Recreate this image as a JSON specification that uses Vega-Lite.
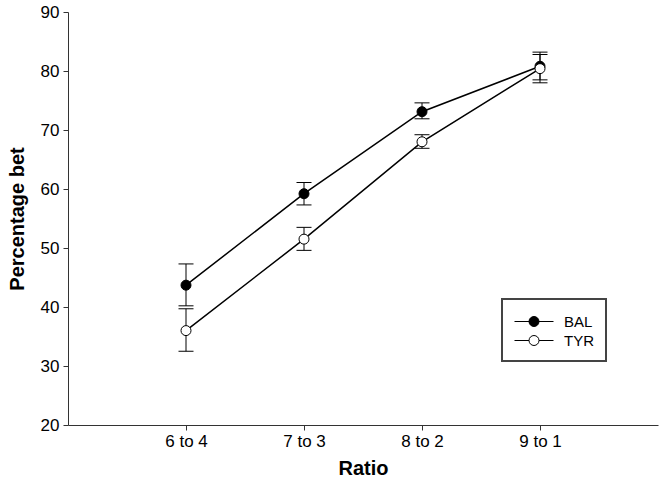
{
  "$schema": "https://vega.github.io/schema/vega-lite/v6.json",
  "width": 590,
  "height": 413,
  "autosize": "none",
  "padding": {"left": 68, "top": 12, "right": 7, "bottom": 57},
  "background": "white",
  "config": {
    "view": {"stroke": null},
    "font": "Liberation Sans",
    "axis": {"labelFont": "Liberation Sans", "titleFont": "Liberation Sans", "labelColor": "black", "titleColor": "black", "domainColor": "#333", "tickColor": "#333", "grid": false}
  },
  "data": {
    "values": [
      {"ratio": "6 to 4", "group": "BAL", "mean": 43.7, "lo": 40.2, "hi": 47.3},
      {"ratio": "7 to 3", "group": "BAL", "mean": 59.2, "lo": 57.3, "hi": 61.1},
      {"ratio": "8 to 2", "group": "BAL", "mean": 73.1, "lo": 71.9, "hi": 74.6},
      {"ratio": "9 to 1", "group": "BAL", "mean": 80.8, "lo": 78.5, "hi": 83.2},
      {"ratio": "6 to 4", "group": "TYR", "mean": 36.0, "lo": 32.5, "hi": 39.7},
      {"ratio": "7 to 3", "group": "TYR", "mean": 51.5, "lo": 49.6, "hi": 53.5},
      {"ratio": "8 to 2", "group": "TYR", "mean": 68.0, "lo": 66.9, "hi": 69.2},
      {"ratio": "9 to 1", "group": "TYR", "mean": 80.4, "lo": 78.0, "hi": 82.8}
    ]
  },
  "encoding": {
    "x": {
      "field": "ratio", "type": "ordinal",
      "scale": {"type": "point", "padding": 1, "domain": ["6 to 4", "7 to 3", "8 to 2", "9 to 1"]},
      "axis": {"title": "Ratio", "labelAngle": 0, "labelFontSize": 17, "titleFontSize": 20, "titleFontWeight": "bold", "tickSize": 5, "labelPadding": 3, "titlePadding": 9}
    }
  },
  "layer": [
    {
      "mark": {"type": "line", "color": "black", "strokeWidth": 1.5},
      "encoding": {
        "y": {"field": "mean", "type": "quantitative", "scale": {"domain": [20, 90], "nice": false, "zero": false},
          "axis": {"title": "Percentage bet", "values": [20, 30, 40, 50, 60, 70, 80, 90], "labelFontSize": 17, "titleFontSize": 20, "titleFontWeight": "bold", "tickSize": 5, "labelPadding": 4, "titlePadding": 13}},
        "detail": {"field": "group"}
      }
    },
    {
      "mark": {"type": "rule", "color": "black", "strokeWidth": 1},
      "encoding": {
        "y": {"field": "lo", "type": "quantitative"},
        "y2": {"field": "hi"}
      }
    },
    {
      "mark": {"type": "tick", "color": "black", "size": 15, "thickness": 1, "orient": "horizontal", "opacity": 1},
      "encoding": {"y": {"field": "lo", "type": "quantitative"}}
    },
    {
      "mark": {"type": "tick", "color": "black", "size": 15, "thickness": 1, "orient": "horizontal", "opacity": 1},
      "encoding": {"y": {"field": "hi", "type": "quantitative"}}
    },
    {
      "mark": {"type": "point", "shape": "circle", "size": 100, "stroke": "black", "strokeWidth": 1, "opacity": 1, "filled": false},
      "encoding": {
        "y": {"field": "mean", "type": "quantitative"},
        "fill": {
          "field": "group", "type": "nominal",
          "scale": {"domain": ["BAL", "TYR"], "range": ["black", "white"]},
          "legend": {
            "title": null,
            "orient": "none",
            "legendX": 434,
            "legendY": 287,
            "strokeColor": "#444",
            "padding": 12,
            "rowPadding": 0,
            "labelFontSize": 15,
            "labelColor": "black",
            "symbolType": "M-1,0L0.45,0M1.45,0L2.9,0M0.45,0A0.5,0.5 0 1,1 1.45,0A0.5,0.5 0 1,1 0.45,0Z",
            "symbolSize": 400,
            "symbolStrokeColor": "black",
            "symbolStrokeWidth": 1,
            "symbolOpacity": 1,
            "labelOffset": 29,
            "encode": {"legend": {"update": {"strokeWidth": {"value": 2}}}}
          }
        }
      }
    }
  ]
}
